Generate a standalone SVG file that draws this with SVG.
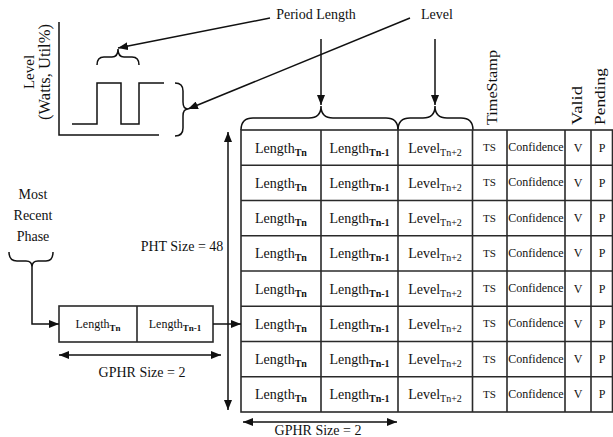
<svg xmlns="http://www.w3.org/2000/svg" width="613" height="437" viewBox="0 0 613 437" font-family="'Liberation Serif', 'DejaVu Serif', serif">
  <style>
    text { font-family: "Liberation Serif", "DejaVu Serif", serif; fill: #111; }
    .lbl { font-size: 14px; }
    .cell { font-size: 14px; text-anchor: middle; }
    .small { font-size: 12px; text-anchor: middle; }
    .ts { font-size: 11px; text-anchor: middle; }
    .sb { font-size: 10px; font-weight: bold; }
    .sr { font-size: 10px; }
    .sb9 { font-size: 9px; font-weight: bold; }
    .ln { fill: none; stroke: #111; stroke-width: 1.5; }
    .grid { fill: none; stroke: #2a2a2a; stroke-width: 1.6; }
    .arr { fill: none; stroke: #111; stroke-width: 1.5; marker-end: url(#ah); }
    .darr { fill: none; stroke: #111; stroke-width: 1.5; marker-start: url(#ah); marker-end: url(#ah); }
  </style>
  <defs>
    <marker id="ah" viewBox="0 0 10 8" refX="10" refY="4" markerWidth="10" markerHeight="8" markerUnits="userSpaceOnUse" orient="auto-start-reverse">
      <path d="M0,0 L10,4 L0,8 z" fill="#111"/>
    </marker>
  </defs>
  <rect width="613" height="437" fill="#fff"/>

  <!-- waveform plot -->
  <g id="plot">
    <path class="ln" d="M59,22 L59,135 L159,135"/>
    <path class="ln" d="M72,124 L97,124 L97,83 L121,83 L121,124 L139,124 L139,83 L164,83"/>
    <text x="-72" y="34" font-size="15" text-anchor="middle" transform="rotate(-90)">Level</text>
    <text x="-72" y="50" font-size="16.5" text-anchor="middle" transform="rotate(-90)">(Watts, Util%)</text>
    <!-- brace over one period -->
    <path class="ln" d="M97,65 Q97,57 104,57 L112,57 Q118,57 118,49 Q118,57 124,57 L132,57 Q139,57 139,65"/>
    <!-- brace beside the pulse height -->
    <path class="ln" d="M175,83 Q183,83 183,91 L183,102 Q183,109 188,109 Q183,109 183,116 L183,128 Q183,136 175,136"/>
  </g>

  <!-- top labels -->
  <g id="label-period">
    <text class="lbl" x="316" y="19" text-anchor="middle">Period Length</text>
  </g>
  <g id="label-level">
    <text class="lbl" x="437" y="19" text-anchor="middle">Level</text>
  </g>

  <!-- column headers -->
  <g id="headers">
    <text class="lbl" transform="translate(497,125) rotate(-90)" textLength="75" lengthAdjust="spacingAndGlyphs">TimeStamp</text>
    <text class="lbl" transform="translate(582,125) rotate(-90)" textLength="39" lengthAdjust="spacingAndGlyphs">Valid</text>
    <text class="lbl" transform="translate(605,125) rotate(-90)" textLength="57" lengthAdjust="spacingAndGlyphs">Pending</text>
  </g>

  <!-- braces over the table columns -->
  <g id="table-braces">
    <path class="ln" d="M241,130 Q241,118 253,118 L309,118 Q321,118 321,106 Q321,118 333,118 L386,118 Q398,118 398,130"/>
    <path class="ln" d="M398,130 Q398,118 410,118 L423,118 Q435,118 435,106 Q435,118 447,118 L461,118 Q473,118 473,130"/>
  </g>

  <!-- most recent phase -->
  <g id="most-recent">
    <text class="lbl" x="33" y="199" text-anchor="middle">Most</text>
    <text class="lbl" x="33" y="220" text-anchor="middle">Recent</text>
    <text class="lbl" x="33" y="241" text-anchor="middle">Phase</text>
    <path class="ln" d="M9,252 Q9,261 17,261 L26,261 Q32,261 32,267 Q32,261 38,261 L46,261 Q53,261 53,252"/>
  </g>

  <!-- global phase history register -->
  <g id="gphr">
    <rect class="grid" x="59" y="306" width="154" height="36"/>
    <line class="grid" x1="137" y1="306" x2="137" y2="342"/>
    <text class="small" x="98" y="328">Length<tspan class="sb9" dy="3">Tn</tspan></text>
    <text class="small" x="175" y="328">Length<tspan class="sb9" dy="3">Tn-1</tspan></text>
    <text class="lbl" x="142" y="377" text-anchor="middle">GPHR Size = 2</text>
  </g>

  <g id="pht-size">
    <text class="lbl" x="182" y="251" text-anchor="middle">PHT Size = 48</text>
  </g>

  <!-- pattern history table -->
  <g id="pht">
    <rect class="grid" x="241" y="130" width="371.5" height="282"/>
    <g>
      <line class="grid" x1="241" y1="165.25" x2="612.5" y2="165.25"/>
      <line class="grid" x1="241" y1="200.5" x2="612.5" y2="200.5"/>
      <line class="grid" x1="241" y1="235.75" x2="612.5" y2="235.75"/>
      <line class="grid" x1="241" y1="271" x2="612.5" y2="271"/>
      <line class="grid" x1="241" y1="306.25" x2="612.5" y2="306.25"/>
      <line class="grid" x1="241" y1="341.5" x2="612.5" y2="341.5"/>
      <line class="grid" x1="241" y1="376.75" x2="612.5" y2="376.75"/>
      <line class="grid" x1="321" y1="130" x2="321" y2="412"/>
      <line class="grid" x1="398" y1="130" x2="398" y2="412"/>
      <line class="grid" x1="472.5" y1="130" x2="472.5" y2="412"/>
      <line class="grid" x1="507" y1="130" x2="507" y2="412"/>
      <line class="grid" x1="565" y1="130" x2="565" y2="412"/>
      <line class="grid" x1="591" y1="130" x2="591" y2="412"/>
    </g>
  </g>

  <g id="row1">
    <text class="cell" x="281" y="152.6">Length<tspan class="sb" dy="3">Tn</tspan></text>
    <text class="cell" x="359.5" y="152.6">Length<tspan class="sb" dy="3">Tn-1</tspan></text>
    <text class="cell" x="435" y="152.6">Level<tspan class="sr" dy="3">Tn+2</tspan></text>
    <text class="ts" x="489.5" y="151.1">TS</text>
    <text class="small" x="536" y="151.1">Confidence</text>
    <text class="small" x="578" y="151.6">V</text>
    <text class="small" x="602" y="151.6">P</text>
  </g>
  <g id="row2">
    <text class="cell" x="281" y="187.9">Length<tspan class="sb" dy="3">Tn</tspan></text>
    <text class="cell" x="359.5" y="187.9">Length<tspan class="sb" dy="3">Tn-1</tspan></text>
    <text class="cell" x="435" y="187.9">Level<tspan class="sr" dy="3">Tn+2</tspan></text>
    <text class="ts" x="489.5" y="186.4">TS</text>
    <text class="small" x="536" y="186.4">Confidence</text>
    <text class="small" x="578" y="186.9">V</text>
    <text class="small" x="602" y="186.9">P</text>
  </g>
  <g id="row3">
    <text class="cell" x="281" y="223.1">Length<tspan class="sb" dy="3">Tn</tspan></text>
    <text class="cell" x="359.5" y="223.1">Length<tspan class="sb" dy="3">Tn-1</tspan></text>
    <text class="cell" x="435" y="223.1">Level<tspan class="sr" dy="3">Tn+2</tspan></text>
    <text class="ts" x="489.5" y="221.6">TS</text>
    <text class="small" x="536" y="221.6">Confidence</text>
    <text class="small" x="578" y="222.1">V</text>
    <text class="small" x="602" y="222.1">P</text>
  </g>
  <g id="row4">
    <text class="cell" x="281" y="258.4">Length<tspan class="sb" dy="3">Tn</tspan></text>
    <text class="cell" x="359.5" y="258.4">Length<tspan class="sb" dy="3">Tn-1</tspan></text>
    <text class="cell" x="435" y="258.4">Level<tspan class="sr" dy="3">Tn+2</tspan></text>
    <text class="ts" x="489.5" y="256.9">TS</text>
    <text class="small" x="536" y="256.9">Confidence</text>
    <text class="small" x="578" y="257.4">V</text>
    <text class="small" x="602" y="257.4">P</text>
  </g>
  <g id="row5">
    <text class="cell" x="281" y="293.6">Length<tspan class="sb" dy="3">Tn</tspan></text>
    <text class="cell" x="359.5" y="293.6">Length<tspan class="sb" dy="3">Tn-1</tspan></text>
    <text class="cell" x="435" y="293.6">Level<tspan class="sr" dy="3">Tn+2</tspan></text>
    <text class="ts" x="489.5" y="292.1">TS</text>
    <text class="small" x="536" y="292.1">Confidence</text>
    <text class="small" x="578" y="292.6">V</text>
    <text class="small" x="602" y="292.6">P</text>
  </g>
  <g id="row6">
    <text class="cell" x="281" y="328.9">Length<tspan class="sb" dy="3">Tn</tspan></text>
    <text class="cell" x="359.5" y="328.9">Length<tspan class="sb" dy="3">Tn-1</tspan></text>
    <text class="cell" x="435" y="328.9">Level<tspan class="sr" dy="3">Tn+2</tspan></text>
    <text class="ts" x="489.5" y="327.4">TS</text>
    <text class="small" x="536" y="327.4">Confidence</text>
    <text class="small" x="578" y="327.9">V</text>
    <text class="small" x="602" y="327.9">P</text>
  </g>
  <g id="row7">
    <text class="cell" x="281" y="364.1">Length<tspan class="sb" dy="3">Tn</tspan></text>
    <text class="cell" x="359.5" y="364.1">Length<tspan class="sb" dy="3">Tn-1</tspan></text>
    <text class="cell" x="435" y="364.1">Level<tspan class="sr" dy="3">Tn+2</tspan></text>
    <text class="ts" x="489.5" y="362.6">TS</text>
    <text class="small" x="536" y="362.6">Confidence</text>
    <text class="small" x="578" y="363.1">V</text>
    <text class="small" x="602" y="363.1">P</text>
  </g>
  <g id="row8">
    <text class="cell" x="281" y="399.4">Length<tspan class="sb" dy="3">Tn</tspan></text>
    <text class="cell" x="359.5" y="399.4">Length<tspan class="sb" dy="3">Tn-1</tspan></text>
    <text class="cell" x="435" y="399.4">Level<tspan class="sr" dy="3">Tn+2</tspan></text>
    <text class="ts" x="489.5" y="397.9">TS</text>
    <text class="small" x="536" y="397.9">Confidence</text>
    <text class="small" x="578" y="398.4">V</text>
    <text class="small" x="602" y="398.4">P</text>
  </g>

  <g id="gphr-size-bottom">
    <text class="lbl" x="318" y="435" text-anchor="middle">GPHR Size = 2</text>
  </g>

  <!-- connectors -->
  <g id="connectors">
    <line class="arr" x1="270" y1="18" x2="118" y2="48"/>
    <line class="arr" x1="410" y1="18" x2="188" y2="109"/>
    <line class="arr" x1="321" y1="39" x2="321" y2="105"/>
    <line class="arr" x1="435" y1="39" x2="435" y2="105"/>
    <path class="arr" d="M32,267 L32,324 L59,324"/>
    <line class="arr" x1="213" y1="324" x2="241" y2="324"/>
    <line class="darr" x1="228" y1="132" x2="228" y2="410"/>
    <line class="darr" x1="59" y1="355" x2="221" y2="355"/>
    <line class="darr" x1="243" y1="422" x2="397" y2="422"/>
  </g>
</svg>
